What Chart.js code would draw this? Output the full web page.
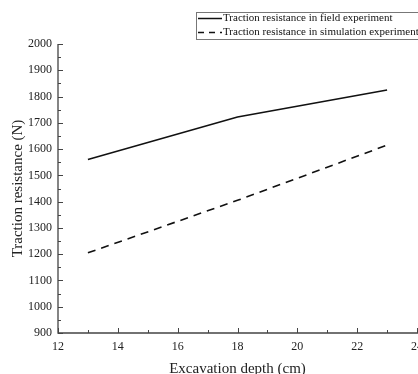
<!DOCTYPE html>
<html><head><meta charset="utf-8">
<script src="https://cdn.jsdelivr.net/npm/chart.js@4/dist/chart.umd.min.js"></script>
<style>html,body{margin:0;padding:0;background:#fff}#wrap{width:418px;height:374px;position:relative}</style>
</head><body><div id="wrap"><canvas id="c" width="418" height="374"></canvas></div>
<script>
const depths = [13, 18, 23];
const fieldValues = [1560, 1722, 1825];
const simValues = [1205, 1405, 1615];
const seriesLabels = ["Traction resistance in field experiment", "Traction resistance in simulation experiment"];
const xTicks = [12, 14, 16, 18, 20, 22, 24];
const yTicks = [900, 1000, 1100, 1200, 1300, 1400, 1500, 1600, 1700, 1800, 1900, 2000];

const FONT = "'Liberation Serif', 'DejaVu Serif', serif";

const inwardTicks = {
  id: 'inwardTicks',
  afterDraw(chart) {
    const ctx = chart.ctx, xs = chart.scales.x, ys = chart.scales.y;
    const a = chart.chartArea;
    ctx.save();
    ctx.strokeStyle = '#444';
    ctx.lineWidth = 1.3;
    ctx.beginPath();
    ctx.moveTo(a.left, a.top); ctx.lineTo(a.left, a.bottom); ctx.lineTo(a.right + 1, a.bottom);
    ctx.stroke();
    ctx.lineWidth = 1;
    for (let v = 12; v <= 24; v += 1) {
      const px = Math.round(xs.getPixelForValue(v)) + 0.5;
      const len = (v % 2 === 0) ? 5 : 3;
      ctx.beginPath(); ctx.moveTo(px, a.bottom); ctx.lineTo(px, a.bottom - len); ctx.stroke();
    }
    for (let v = 900; v <= 2000; v += 50) {
      const py = Math.round(ys.getPixelForValue(v)) + 0.5;
      const len = (v % 100 === 0) ? 5 : 3;
      ctx.beginPath(); ctx.moveTo(a.left, py); ctx.lineTo(a.left + len, py); ctx.stroke();
    }
    // legend
    const bx = 196, by = 12, bw = 230, bh = 27;
    ctx.fillStyle = '#fff';
    ctx.fillRect(bx, by, bw, bh);
    ctx.strokeStyle = '#777';
    ctx.lineWidth = 1;
    ctx.strokeRect(bx + 0.5, by + 0.5, bw, bh);
    ctx.font = '11px ' + FONT;
    ctx.fillStyle = '#111';
    ctx.textBaseline = 'middle';
    chart.data.datasets.forEach((ds, i) => {
      const yy = by + 6.5 + i * 14;
      ctx.strokeStyle = '#111';
      ctx.lineWidth = 1.5;
      ctx.setLineDash(ds.borderDash && ds.borderDash.length ? [6, 5] : []);
      ctx.beginPath(); ctx.moveTo(bx + 2, yy); ctx.lineTo(bx + 26, yy); ctx.stroke();
      ctx.setLineDash([]);
      ctx.fillText(ds.label, bx + 27, yy);
    });
    ctx.restore();
  }
};

new Chart(document.getElementById('c'), {
  type: 'line',
  data: {
    datasets: [
      { label: seriesLabels[0], data: depths.map((d, i) => ({x: d, y: fieldValues[i]})), borderColor: '#111', borderWidth: 1.6, pointRadius: 0, tension: 0, fill: false },
      { label: seriesLabels[1], data: depths.map((d, i) => ({x: d, y: simValues[i]})), borderColor: '#111', borderWidth: 1.6, borderDash: [8, 6], pointRadius: 0, tension: 0, fill: false }
    ]
  },
  options: {
    responsive: false,
    animation: false,
    layout: { padding: { top: 44, right: 1, left: 0, bottom: 0 } },
    plugins: { legend: { display: false }, tooltip: { enabled: false } },
    scales: {
      x: {
        type: 'linear', min: 12, max: 24,
        afterBuildTicks: s => { s.ticks = xTicks.map(v => ({value: v})); },
        afterFit: s => { s.height = 41; s.paddingLeft = 0; s.paddingRight = 0; },
        grid: { display: false, drawTicks: false },
        border: { display: false },
        ticks: { color: '#222', font: { family: FONT, size: 12 }, padding: 7, maxRotation: 0, autoSkip: false, callback: v => String(v) },
        title: { display: true, text: 'Excavation depth (cm)', color: '#222', font: { family: FONT, size: 15 }, padding: { top: 7, bottom: -4 } }
      },
      y: {
        type: 'linear', min: 900, max: 2000,
        afterBuildTicks: s => { s.ticks = yTicks.map(v => ({value: v})); },
        afterFit: s => { s.width = 58; s.paddingTop = 0; s.paddingBottom = 0; },
        grid: { display: false, drawTicks: false },
        border: { display: false },
        ticks: { color: '#222', font: { family: FONT, size: 12 }, padding: 6, autoSkip: false, callback: v => String(v) },
        title: { display: true, text: 'Traction resistance (N)', color: '#222', font: { family: FONT, size: 15 }, padding: { top: 9, bottom: 0 } }
      }
    }
  },
  plugins: [inwardTicks]
});
</script>
</body></html>
